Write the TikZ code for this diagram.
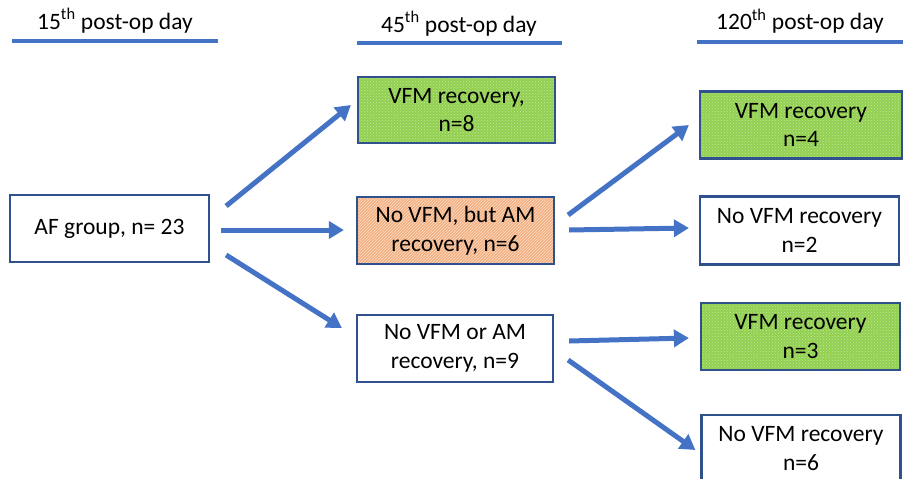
\documentclass[tikz,border=0pt]{standalone}
\usepackage{fontspec}
\setmainfont{Carlito}
\usetikzlibrary{arrows.meta,patterns}
\definecolor{linkblue}{HTML}{4472C4}
\definecolor{edgeblue}{HTML}{2F528F}
\definecolor{leafgreen}{HTML}{92D050}
\definecolor{peach}{HTML}{F4B183}
\begin{document}
\begin{tikzpicture}[x=1pt,y=-1pt,
  txt/.style={font=\fontsize{23.5}{28.5}\selectfont},
  box/.style={txt,draw=edgeblue,line width=2.2pt,rectangle,align=center,
    inner sep=0pt,fill=white},
  wbox/.style={box,minimum width=199pt,minimum height=67pt},
  % textured boxes: fill, then texture, then the border on top
  greenbox/.style={wbox,draw=none,fill=leafgreen,
    postaction={pattern=crosshatch dots,pattern color=white!45!leafgreen},
    postaction={draw=edgeblue,line width=2.2pt}},
  peachbox/.style={wbox,draw=none,fill=peach,
    postaction={pattern=north east lines,pattern color=white!55!peach},
    postaction={draw=edgeblue,line width=2.2pt}},
  head/.style={txt,anchor=base,inner sep=0pt},
  rule/.style={linkblue,line width=4pt},
  flow/.style={linkblue,line width=5pt,-{Triangle[length=15pt,width=17pt]}}]
\useasboundingbox (0,0) rectangle (903,479);
\clip (0,0) rectangle (903,479);

% column headings
\node[head] (h15) at (115,29) {15\textsuperscript{th} post-op day};
\node[head] (h45) at (459,32) {45\textsuperscript{th} post-op day};
\node[head] (h120) at (800,30) {120\textsuperscript{th} post-op day};
\draw[rule] (12,41) -- (218,41);
\draw[rule] (357,43) -- (562,43);
\draw[rule] (697,42) -- (903,42);

% boxes
\node[wbox] (af) at (109.5,228.5) {AF group, n= 23};
\node[greenbox,minimum width=197pt,minimum height=66pt] (m8) at (456.5,110) {VFM recovery,\\n=8};
\node[peachbox,minimum width=197pt] (m6) at (455.5,230.5) {No VFM, but AM\\recovery, n=6};
\node[wbox,minimum width=196pt] (m9) at (455,348.5) {No VFM or AM\\recovery, n=9};
\node[greenbox,minimum width=202pt] (r4) at (801,125) {VFM recovery\\n=4};
\node[wbox,minimum height=68pt] (r2) at (799.5,230.5) {No VFM recovery\\n=2};
\node[greenbox] (r3) at (800.5,336.5) {VFM recovery\\n=3};
\node[wbox] (r6) at (801,448.5) {No VFM recovery\\n=6};

% arrows
\draw[flow] ([shift={(16,-22.5)}]af.east) -- ([shift={(-6,-5)}]m8.west);
\draw[flow] ([shift={(11,1.5)}]af.east) -- ([shift={(-12,-0.5)}]m6.west);
\draw[flow] ([shift={(16,26.5)}]af.east) -- ([shift={(-14,-20.5)}]m9.west);
\draw[flow] ([shift={(13,-15.5)}]m6.east) -- ([shift={(-10,0)}]r4.west);
\draw[flow] ([shift={(14,-0.5)}]m6.east) -- ([shift={(-10,-2.5)}]r2.west);
\draw[flow] ([shift={(15,-7.5)}]m9.east) -- ([shift={(-11,1.5)}]r3.west);
\draw[flow] ([shift={(14,11.5)}]m9.east) -- ([shift={(-5,1.5)}]r6.west);
\end{tikzpicture}
\end{document}
